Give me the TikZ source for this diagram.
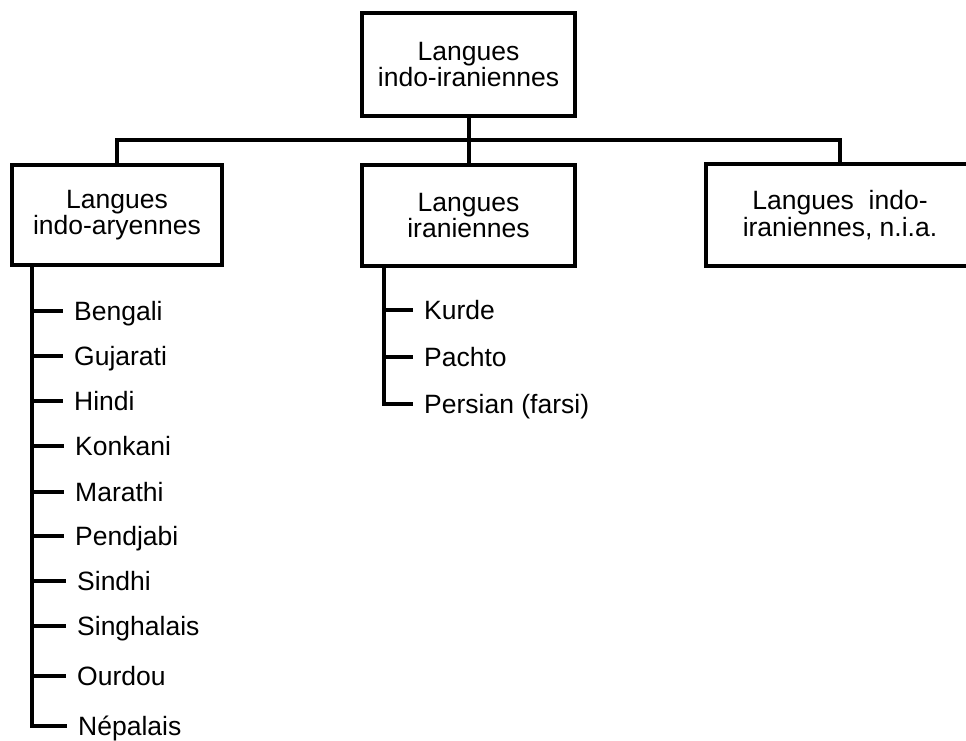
\documentclass[tikz,border=0pt]{standalone}
\usepackage{fontspec}
\setmainfont{Liberation Sans}
\begin{document}
\begin{tikzpicture}[x=1pt,y=-1pt,
  txt/.style={font=\fontsize{26.5}{26.5}\selectfont},
  box/.style={txt, draw, line width=4pt, inner sep=0pt, outer sep=0pt, align=center},
  item/.style={txt, inner sep=0pt, anchor=west, text height=18pt, text depth=0pt},
  link/.style={line width=4pt}]
\useasboundingbox (0,0) rectangle (966,741);
\clip (0,0) rectangle (966,741);

% boxes
\node[box, minimum width=213pt, minimum height=103pt] (root) at (468.5,64.5) {Langues\\indo-iraniennes};
\node[box, minimum width=210pt, minimum height=100pt] (aryan) at (117,215) {Langues\\indo-aryennes};
\node[box, minimum width=213pt, minimum height=101pt] (iran) at (468.5,215.5) {Langues\\iraniennes};
\node[box, minimum width=268pt, minimum height=102pt] (other) at (840,215) {Langues\ \ indo-\\iraniennes, n.i.a.};

% bus between the levels
\coordinate (bus) at (468.5,140);
\draw[link] (aryan.north) |- (bus) -| (other.north);
\draw[link] (root.south) -- (iran.north);

% indo-aryan languages
\coordinate (lspine) at (32,0);
\node[item] (l1) at (74,311) {Bengali};
\node[item] (l2) at (74,356) {Gujarati};
\node[item] (l3) at (74,401) {Hindi};
\node[item] (l4) at (75,446) {Konkani};
\node[item] (l5) at (75,492) {Marathi};
\node[item] (l6) at (75,536) {Pendjabi};
\node[item] (l7) at (77,581) {Sindhi};
\node[item] (l8) at (77,626) {Singhalais};
\node[item] (l9) at (77,676) {Ourdou};
\node[item] (l10) at (78,726) {Népalais};
\draw[link] (aryan.south -| lspine) |- ([xshift=-11pt]l10.west);
\foreach \n in {l1,l2,l3,l4,l5,l6,l7,l8,l9}
  \draw[link] (\n.west -| lspine) -- ([xshift=-11pt]\n.west);

% iranian languages
\coordinate (mspine) at (384,0);
\node[item] (m1) at (424,310) {Kurde};
\node[item] (m2) at (424,357) {Pachto};
\node[item] (m3) at (424,404) {Persian (farsi)};
\draw[link] (iran.south -| mspine) |- ([xshift=-11pt]m3.west);
\foreach \n in {m1,m2}
  \draw[link] (\n.west -| mspine) -- ([xshift=-11pt]\n.west);
\end{tikzpicture}
\end{document}
